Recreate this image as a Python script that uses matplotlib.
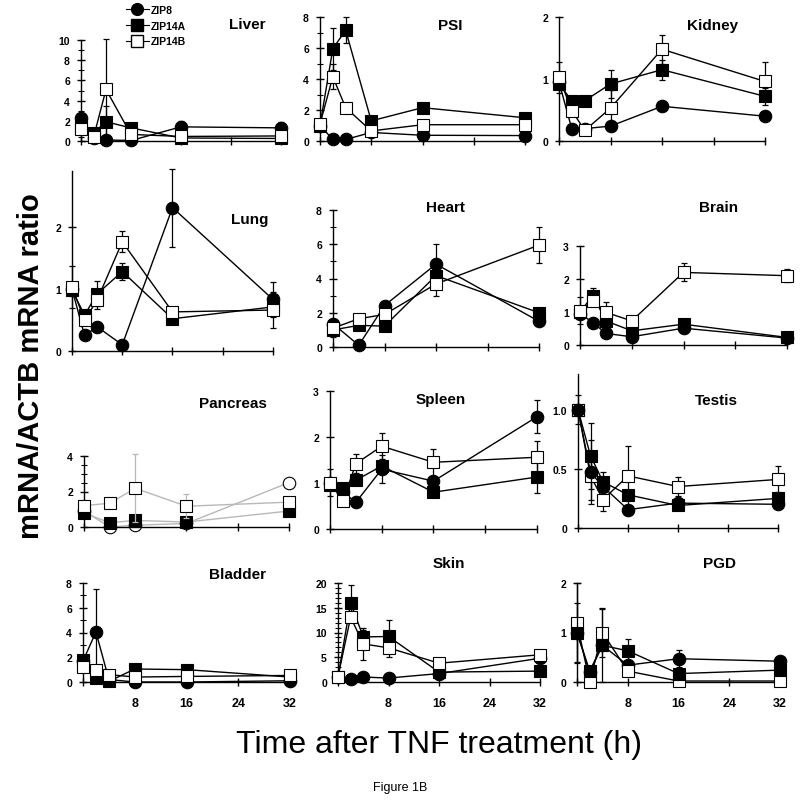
import numpy as np
import matplotlib
matplotlib.use("Agg")
import matplotlib.pyplot as plt
from matplotlib.lines import Line2D
from matplotlib.ticker import MultipleLocator, FixedLocator

plt.rcParams["font.family"] = ["Liberation Sans", "DejaVu Sans"]

# --- data ---
tissues = ["Liver", "PSI", "Kidney", "Lung", "Heart", "Brain",
           "Pancreas", "Spleen", "Testis", "Bladder", "Skin", "PGD"]
times_full = [0, 2, 4, 8, 16, 32]
times_short = [0, 4, 8, 16, 32]   # Heart and Pancreas have no 2 h point

zip8_mean = {
    "Liver": [2.3, 0.3, 0.1, 0.05, 1.4, 1.3],
    "PSI": [1.0, 0.1, 0.1, 0.55, 0.37, 0.35],
    "Kidney": [0.95, 0.19, 0.2, 0.24, 0.56, 0.40],
    "Lung": [1.0, 0.25, 0.39, 0.10, 2.31, 0.83],
    "Heart": [1.36, 0.1, 2.42, 4.84, 1.5],
    "Brain": [0.95, 0.68, 0.35, 0.25, 0.51, 0.21],
    "Pancreas": [0.9, 0.0, 0.1, 0.2, 2.5],
    "Spleen": [1.0, 0.8, 0.58, 1.3, 1.04, 2.44],
    "Testis": [1.0, 0.47, 0.35, 0.155, 0.21, 0.2],
    "Bladder": [1.7, 4.04, 0.2, 0.0, 0.0, 0.1],
    "Skin": [1.0, 0.7, 1.0, 0.8, 1.7, 4.8],
    "PGD": [1.0, 0.2, 0.74, 0.34, 0.47, 0.42],
}
zip8_err = {
    "Liver": [0.3, 0, 0, 0, 0.6, 0.6],
    "PSI": [0, 0, 0, 0, 0, 0],
    "Kidney": [0, 0, 0, 0, 0, 0],
    "Lung": [0, 0, 0, 0, 0.63, 0.28],
    "Heart": [0, 0, 0, 1.16, 0],
    "Brain": [0, 0, 0, 0, 0, 0],
    "Pancreas": [0, 0, 0, 0, 0],
    "Spleen": [0, 0, 0, 0.3, 0, 0.36],
    "Testis": [0, 0.27, 0, 0, 0, 0],
    "Bladder": [0, 3.5, 0, 0, 0, 0],
    "Skin": [0, 0, 0, 0, 0, 0],
    "PGD": [0, 0, 0, 0, 0.17, 0],
}
zip14a_mean = {
    "Liver": [1.5, 0.8, 1.9, 1.3, 0.3, 0.25],
    "PSI": [1.0, 5.95, 7.15, 1.3, 2.15, 1.5],
    "Kidney": [0.92, 0.65, 0.65, 0.92, 1.15, 0.72],
    "Lung": [0.98, 0.58, 0.92, 1.28, 0.52, 0.71],
    "Heart": [1.0, 1.26, 1.22, 4.17, 2.0],
    "Brain": [1.0, 1.5, 0.73, 0.43, 0.63, 0.23],
    "Pancreas": [0.8, 0.24, 0.37, 0.28, 0.9],
    "Spleen": [0.95, 0.89, 1.06, 1.37, 0.8, 1.13],
    "Testis": [1.0, 0.61, 0.39, 0.28, 0.19, 0.25],
    "Bladder": [1.8, 0.3, 0.05, 1.05, 1.0, 0.4],
    "Skin": [1.0, 16.0, 9.1, 9.2, 2.0, 2.2],
    "PGD": [1.0, 0.22, 0.74, 0.63, 0.17, 0.24],
}
zip14a_err = {
    "Liver": [0, 0, 1.6, 0, 0, 0],
    "PSI": [0, 1.35, 0.85, 0, 0, 0],
    "Kidney": [0, 0, 0, 0.23, 0.16, 0.14],
    "Lung": [0.1, 0, 0.2, 0.14, 0, 0],
    "Heart": [0, 0, 0, 0, 0],
    "Brain": [0, 0.22, 0, 0, 0, 0],
    "Pancreas": [0, 0, 0, 0, 0],
    "Spleen": [0, 0, 0, 0, 0, 0.35],
    "Testis": [0, 0.28, 0.08, 0, 0, 0],
    "Bladder": [0, 0, 0, 0, 0, 0],
    "Skin": [0, 3.5, 1.5, 3.3, 0, 0],
    "PGD": [0.6, 0, 0.74, 0.24, 0, 0],
}
zip14b_mean = {
    "Liver": [1.2, 0.35, 5.1, 0.65, 0.45, 0.5],
    "PSI": [1.1, 4.15, 2.15, 0.65, 1.05, 1.05],
    "Kidney": [1.03, 0.49, 0.17, 0.53, 1.48, 0.96],
    "Lung": [1.03, 0.5, 0.82, 1.76, 0.63, 0.66],
    "Heart": [1.1, 1.65, 1.9, 3.68, 5.95],
    "Brain": [1.04, 1.32, 0.99, 0.73, 2.2, 2.1],
    "Pancreas": [1.2, 1.34, 2.18, 1.17, 1.4],
    "Spleen": [1.01, 0.61, 1.42, 1.8, 1.45, 1.56],
    "Testis": [1.0, 0.44, 0.24, 0.44, 0.35, 0.41],
    "Bladder": [1.2, 0.95, 0.6, 0.4, 0.45, 0.53],
    "Skin": [1.1, 13.1, 7.7, 6.9, 3.8, 5.5],
    "PGD": [1.19, 0.0, 1.0, 0.22, 0.02, 0.02],
}
zip14b_err = {
    "Liver": [0.8, 0, 5.0, 0, 0, 0.3],
    "PSI": [0, 0.8, 0, 0, 0, 0],
    "Kidney": [0.25, 0, 0, 0.3, 0.23, 0.32],
    "Lung": [0.34, 0, 0.15, 0.17, 0, 0.29],
    "Heart": [0.5, 0, 0, 0.68, 1.05],
    "Brain": [0.4, 0, 0.32, 0, 0.27, 0.2],
    "Pancreas": [0, 0, 1.92, 0.69, 0],
    "Spleen": [0.3, 0, 0.21, 0.28, 0.29, 0.35],
    "Testis": [0.12, 0.2, 0.1, 0.25, 0.08, 0.11],
    "Bladder": [0, 0, 0, 0, 0, 0],
    "Skin": [0, 0, 3.2, 1.9, 0, 0],
    "PGD": [0.81, 0, 0.5, 0, 0, 0],
}

# --- layout (pixel boxes: x at 0 h, x at 32 h, y of top, y of bottom) ---
W, H = 800, 803
box = {
    "Liver": (81, 281, 41, 142), "PSI": (320, 525, 18, 142), "Kidney": (559, 765, 18, 142),
    "Lung": (72, 273, 172, 352), "Heart": (333, 539, 211, 348), "Brain": (580, 787, 247, 346),
    "Pancreas": (84, 289, 457, 528), "Spleen": (330, 537, 392, 530), "Testis": (578, 778, 375, 529),
    "Bladder": (83, 290, 584, 683), "Skin": (338, 540, 584, 683), "PGD": (577, 780, 584, 683),
}
ylims = {"Liver": 10, "PSI": 8, "Kidney": 2, "Lung": 2.9, "Heart": 8, "Brain": 3,
         "Pancreas": 4, "Spleen": 3, "Testis": 1.3, "Bladder": 8, "Skin": 20, "PGD": 2}
major = {"Liver": 2, "PSI": 2, "Kidney": 1, "Lung": 1, "Heart": 2, "Brain": 1,
         "Pancreas": 2, "Spleen": 1, "Testis": 0.5, "Bladder": 2, "Skin": 5, "PGD": 1}
minor = {"Liver": 1, "PSI": 1, "Heart": 1, "Pancreas": 0.5, "Bladder": 1, "Skin": 1}
title_pos = {"Liver": (247, 25), "PSI": (450, 26), "Kidney": (713, 26), "Lung": (250, 220),
             "Heart": (445, 208), "Brain": (719, 208), "Pancreas": (233, 404),
             "Spleen": (441, 400), "Testis": (716, 401), "Bladder": (237, 575),
             "Skin": (449, 564), "PGD": (720, 564)}
bottom_row = ["Bladder", "Skin", "PGD"]

fig = plt.figure(figsize=(W / 100, H / 100), dpi=100)
fig.patch.set_facecolor("white")

for name in tissues:
    x0, x1, yt, yb = box[name]
    ax = fig.add_axes([x0 / W, 1 - yb / H, (x1 - x0) / W, (yb - yt) / H])
    t = times_short if name in ("Heart", "Pancreas") else times_full
    faded = name == "Pancreas"
    lc = "#b8b8b8" if faded else "black"

    series = [
        (zip8_mean[name], zip8_err[name], "o", "white" if faded else "black", 2),
        (zip14a_mean[name], zip14a_err[name], "s", "black", 3),
        (zip14b_mean[name], zip14b_err[name], "s", "white", 4),
    ]
    if name == "Testis":
        series[0] = series[0][:4] + (5,)
    if name == "PGD":
        series[1] = series[1][:4] + (5,)
    for mean, err, mk, fc, z in series:
        ax.errorbar(t, mean, yerr=err, fmt="none", ecolor=lc, elinewidth=0.9,
                    capsize=2.5, capthick=0.9, zorder=z - 0.5, clip_on=False)
        ax.plot(t, mean, color=lc, lw=1.0, marker=mk, ms=8.5 if mk == "s" else 9,
                mfc=fc, mec="black", mew=0.8, zorder=z, clip_on=False)

    ax.set_xlim(0, 32)
    ax.set_ylim(0, ylims[name])
    for s in ("top", "right"):
        ax.spines[s].set_visible(False)
    for s in ("left", "bottom"):
        ax.spines[s].set_linewidth(1.0)
    ax.xaxis.set_major_locator(FixedLocator([0, 8, 16, 24, 32]))
    ax.yaxis.set_major_locator(MultipleLocator(major[name]))
    if name in minor:
        ax.yaxis.set_minor_locator(MultipleLocator(minor[name]))
    ax.tick_params(axis="both", which="major", direction="inout", length=6, width=1.0,
                   labelsize=7.5, pad=5)
    ax.tick_params(axis="y", which="minor", direction="inout", length=4, width=0.8)
    for lab in ax.get_yticklabels():
        lab.set_fontweight("bold")
    if name == "Testis":
        ax.set_yticks([0, 0.5, 1.0])
        ax.set_yticklabels(["0", "0.5", "1.0"], fontweight="bold")
    if name in bottom_row:
        ax.set_xticklabels(["", "8", "16", "24", "32"], fontweight="bold", fontsize=9)
        ax.tick_params(axis="x", pad=8)
    else:
        ax.set_xticklabels([])
    ax.set_facecolor("none")

    tx, ty = title_pos[name]
    fig.text(tx / W, 1 - ty / H, name, ha="center", va="center",
             fontsize=11, fontweight="bold")

    if name == "Liver":
        handles = [
            Line2D([], [], color="black", lw=0.8, marker="o", ms=8.5, mfc="black", mec="black"),
            Line2D([], [], color="black", lw=0.8, marker="s", ms=8, mfc="black", mec="black"),
            Line2D([], [], color="black", lw=0.8, marker="s", ms=8, mfc="white", mec="black"),
        ]
        leg = ax.legend(handles, ["ZIP8", "ZIP14A", "ZIP14B"], loc="upper left",
                        bbox_to_anchor=(126 / W, 1 - 6 / H), bbox_transform=fig.transFigure,
                        frameon=False, handlelength=2.2, handletextpad=0.2,
                        labelspacing=0.55, borderaxespad=0, borderpad=0,
                        prop={"size": 7.5, "weight": "bold"})

fig.text(31 / W, 1 - 366 / H, "mRNA/ACTB mRNA ratio", rotation=90, ha="center",
         va="center", fontsize=21, fontweight="bold")
fig.text(439 / W, 1 - 745 / H, "Time after TNF treatment (h)", ha="center",
         va="center", fontsize=23)
fig.text(400 / W, 1 - 788 / H, "Figure 1B", ha="center", va="center", fontsize=9)

fig.savefig("out.png", dpi=100)
